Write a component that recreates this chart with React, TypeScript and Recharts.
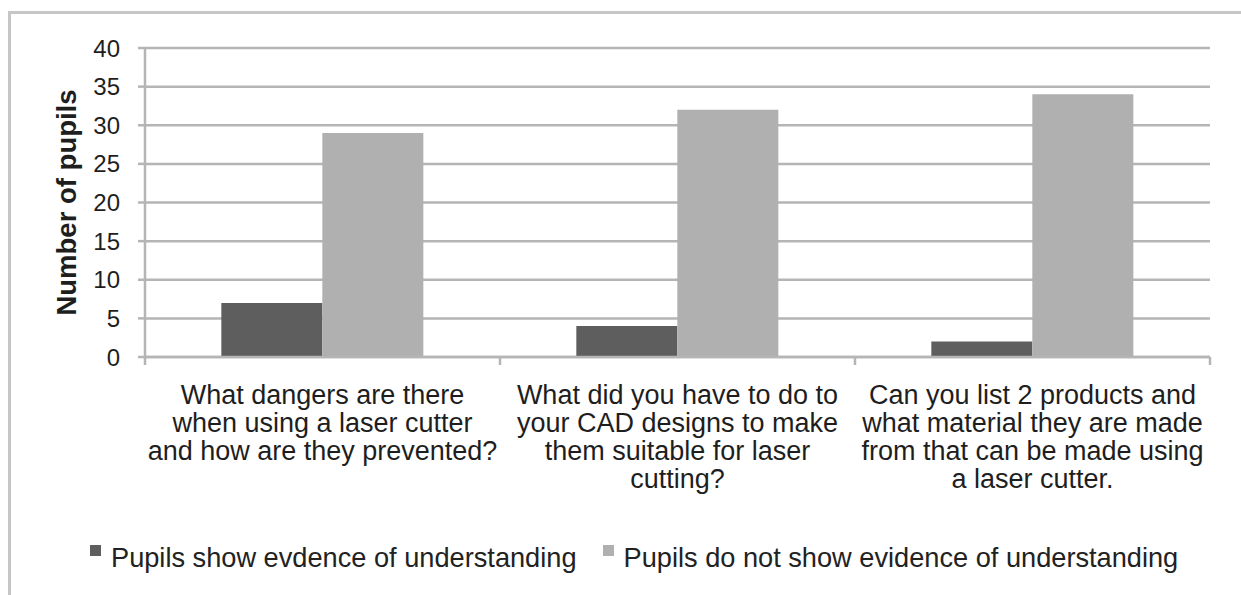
import React from 'react';
import {
  BarChart,
  Bar,
  XAxis,
  YAxis,
  CartesianGrid,
  Legend,
} from 'recharts';

// question text (category) and how each label wraps under the axis
const questions = [
  'What dangers are there when using a laser cutter and how are they prevented?',
  'What did you have to do to your CAD designs to make them suitable for laser cutting?',
  'Can you list 2 products and what material they are made from that can be made using a laser cutter.',
];
const questionLines = [
  ['What dangers are there', 'when using a laser cutter', 'and how are they prevented?'],
  ['What did you have to do to', 'your CAD designs to make', 'them suitable for laser', 'cutting?'],
  ['Can you list 2 products and', 'what material they are made', 'from that can be made using', 'a laser cutter.'],
];
const showsEvidence = [7, 4, 2];
const noEvidence = [29, 32, 34];
const yTicks = [0, 5, 10, 15, 20, 25, 30, 35, 40];
const seriesNames = ['Pupils show evdence of understanding', 'Pupils do not show evidence of understanding'];

const DARK = '#5e5e5e';
const LIGHT = '#b0b0b0';
const GRID = '#b5b5b5';
const FONT = '"Liberation Sans", Arial, sans-serif';

const data = questions.map((q, i) => ({
  question: q,
  shows: showsEvidence[i],
  notShown: noEvidence[i],
}));

function QuestionTick(props: any) {
  const { x, y, payload, index } = props;
  const idx = payload?.index ?? index;
  const lines = questionLines[idx] || [];
  const half = payload?.offset;
  return (
    <g>
      {typeof half === 'number' && (
        <line x1={x - half} x2={x - half} y1={y} y2={y + 8} stroke={GRID} strokeWidth={2.5} />
      )}
      {typeof half === 'number' && idx === questions.length - 1 && (
        <line x1={x + half} x2={x + half} y1={y} y2={y + 8} stroke={GRID} strokeWidth={2.5} />
      )}
      <text x={x} y={y + 47} textAnchor="middle" fill="#1e1e1e" fontSize={27} fontFamily={FONT}>
        {lines.map((l: string, i: number) => (
          <tspan key={i} x={x} dy={i === 0 ? 0 : 28}>
            {l}
          </tspan>
        ))}
      </text>
    </g>
  );
}

function YLabel(props: any) {
  const vb = props.viewBox || {};
  const cx = 76;
  const cy = (vb.y ?? 0) + (vb.height ?? 0) / 2;
  return (
    <text
      x={cx}
      y={cy}
      transform={`rotate(-90, ${cx}, ${cy})`}
      textAnchor="middle"
      fontSize={27.5}
      fontWeight="bold"
      fontFamily={FONT}
      fill="#1e1e1e"
    >
      Number of pupils
    </text>
  );
}

function LegendBox() {
  const colors = [DARK, LIGHT];
  return (
    <div style={{ display: 'flex', alignItems: 'center', height: 30, fontFamily: FONT, fontSize: 27.2, color: '#222' }}>
      {seriesNames.map((n, i) => (
        <div key={n} style={{ display: 'flex', alignItems: 'flex-start', marginRight: 26 }}>
          <span style={{ width: 11, height: 11, background: colors[i], marginTop: 2, marginRight: 10, display: 'inline-block' }} />
          <span style={{ lineHeight: '30px', whiteSpace: 'nowrap' }}>{n}</span>
        </div>
      ))}
    </div>
  );
}

export default function App() {
  return (
    <div style={{ position: 'absolute', left: 0, top: 0, width: 1241, height: 595, background: '#fff', overflow: 'hidden' }}>
      <div
        style={{
          position: 'absolute',
          left: 8,
          top: 11,
          width: 1300,
          height: 700,
          borderTop: '3px solid #c6c6c6',
          borderLeft: '3px solid #c6c6c6',
        }}
      />
      <BarChart
        width={1241}
        height={595}
        data={data}
        margin={{ top: 48, right: 31, left: 20, bottom: 22 }}
        barCategoryGap="21.5%"
        barGap={0}
        style={{ position: 'absolute', left: 0, top: 0 }}
      >
        <CartesianGrid vertical={false} stroke={GRID} strokeWidth={2.5} />
        <XAxis
          dataKey="question"
          height={186}
          interval={0}
          axisLine={{ stroke: GRID, strokeWidth: 2.5 }}
          tickLine={false}
          tickSize={0}
          tickMargin={0}
          tick={<QuestionTick />}
        />
        <YAxis
          width={125}
          domain={[0, 40]}
          ticks={yTicks}
          interval={0}
          axisLine={{ stroke: GRID, strokeWidth: 2.5 }}
          tickLine={{ stroke: GRID, strokeWidth: 2.5 }}
          tickSize={7}
          tickMargin={18}
          tick={{ fill: '#1e1e1e', fontSize: 24, fontFamily: FONT }}
          label={<YLabel />}
        />
        <Legend
          verticalAlign="bottom"
          align="left"
          content={<LegendBox />}
          wrapperStyle={{ left: 90, width: 1120, height: 30 }}
        />
        <Bar dataKey="shows" name={seriesNames[0]} fill={DARK} isAnimationActive={false} />
        <Bar dataKey="notShown" name={seriesNames[1]} fill={LIGHT} isAnimationActive={false} />
      </BarChart>
    </div>
  );
}
